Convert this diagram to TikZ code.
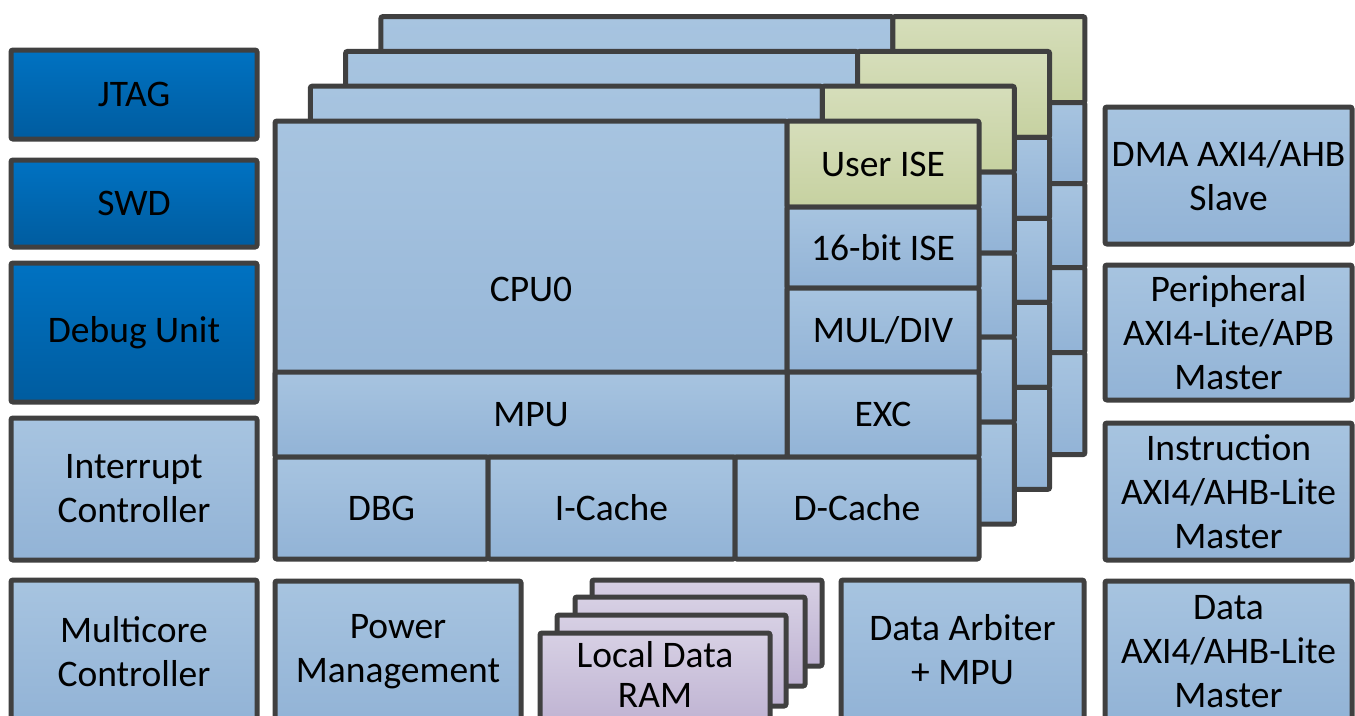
\documentclass[tikz,border=0pt]{standalone}
\usepackage{fontspec}
\setmainfont{Carlito}
\definecolor{bord}{HTML}{404040}
\definecolor{bluetop}{HTML}{A7C4E0}
\definecolor{bluebot}{HTML}{92B3D6}
\definecolor{dbtop}{HTML}{0072C2}
\definecolor{dbbot}{HTML}{005C9F}
\definecolor{grtop}{HTML}{D6DEBB}
\definecolor{grbot}{HTML}{C6D1A0}
\definecolor{putop}{HTML}{D7D0E4}
\definecolor{pubot}{HTML}{BDB1D1}
\newcommand\mybox[7]{\node[#1,minimum width={(#5-#3)*1pt},minimum height={(#6-#4)*1pt}] (#2) at (#3,#4) {#7};}
\begin{document}
\begin{tikzpicture}[x=1pt,y=-1pt,
  base/.style={draw=bord, line width=5pt, rounded corners=2pt, inner sep=0pt, outer sep=0pt,
    align=center, anchor=north west, font=\fontsize{37.5}{44}\selectfont},
  bluebox/.style={base, top color=bluetop, bottom color=bluebot},
  darkbox/.style={base, top color=dbtop, bottom color=dbbot},
  greenbox/.style={base, top color=grtop, bottom color=grbot},
  purplebox/.style={base, top color=putop, bottom color=pubot},
  bluefill/.style={draw=bord, line width=5pt, rounded corners=2pt, top color=bluetop, bottom color=bluebot},
  greenfill/.style={draw=bord, line width=5pt, rounded corners=2pt, top color=grtop, bottom color=grbot},
  purplefill/.style={draw=bord, line width=5pt, rounded corners=2pt, top color=putop, bottom color=pubot}]
\useasboundingbox (0,0) rectangle (1355,715);
\clip (0,0) rectangle (1355,715);
\fill[white] (0,0) rectangle (1355,715);
% stacked core layers behind
\foreach \k in {3,2,1}{
  \begin{scope}[shift={(35.3*\k,-34.8*\k)}]
    \path[bluefill] (275,121) rectangle (787,457);
    \path[greenfill] (787,121) rectangle (979,207);
    \path[bluefill] (787,207) rectangle (979,288);
    \path[bluefill] (787,288) rectangle (979,372);
    \path[bluefill] (787,372) rectangle (979,457);
    \path[bluefill] (275,372) rectangle (787,457);
    \path[bluefill] (275,457) rectangle (488,559);
    \path[bluefill] (488,457) rectangle (735,559);
    \path[bluefill] (735,457) rectangle (979,559);
  \end{scope}
}
% front core
\mybox{bluebox}{cpu}{275}{121}{787}{457}{CPU0}
\mybox{greenbox}{ise}{787}{121}{979}{207}{User ISE}
\mybox{bluebox}{bit}{787}{207}{979}{288}{16-bit ISE}
\mybox{bluebox}{mul}{787}{288}{979}{372}{MUL/DIV}
\mybox{bluebox}{exc}{787}{372}{979}{457}{EXC}
\mybox{bluebox}{mpu}{275}{372}{787}{457}{MPU}
\mybox{bluebox}{dbg}{275}{457}{488}{559}{DBG}
\mybox{bluebox}{icache}{488}{457}{735}{559}{I-Cache}
\mybox{bluebox}{dcache}{735}{457}{979}{559}{D-Cache}
% left column
\mybox{darkbox}{jtag}{11}{50}{257}{139}{JTAG}
\mybox{darkbox}{swd}{11}{160}{257}{247}{SWD}
\mybox{darkbox}{dbu}{11}{263}{257}{402}{Debug Unit}
\mybox{bluebox}{irq}{11}{418}{257}{560}{Interrupt\\Controller}
\mybox{bluebox}{mcc}{11}{580}{257}{723}{Multicore\\Controller}
% right column
\mybox{bluebox}{dma}{1105}{107}{1352}{244}{DMA AXI4/AHB\\Slave}
\mybox{bluebox}{per}{1105}{265}{1352}{400}{Peripheral\\AXI4-Lite/APB\\Master}
\mybox{bluebox}{ins}{1105}{423}{1352}{560}{Instruction\\AXI4/AHB-Lite\\Master}
\mybox{bluebox}{dat}{1105}{581}{1352}{722}{Data\\AXI4/AHB-Lite\\Master}
% bottom row
\mybox{bluebox}{pwr}{275}{581}{521}{723}{Power\\Management}
\mybox{bluebox}{arb}{841}{580}{1084}{719}{Data Arbiter\\+ MPU}
\path[purplefill] (592,580) rectangle (822,666);
\path[purplefill] (575,597) rectangle (805,686);
\path[purplefill] (557,615) rectangle (786,706);
\mybox{purplebox}{ram}{540}{633}{770}{730}{}
\node[font=\fontsize{37.5}{40}\selectfont, align=center, inner sep=0pt] (ramtext) at (655,674) {Local Data\\RAM};
\end{tikzpicture}
\end{document}
